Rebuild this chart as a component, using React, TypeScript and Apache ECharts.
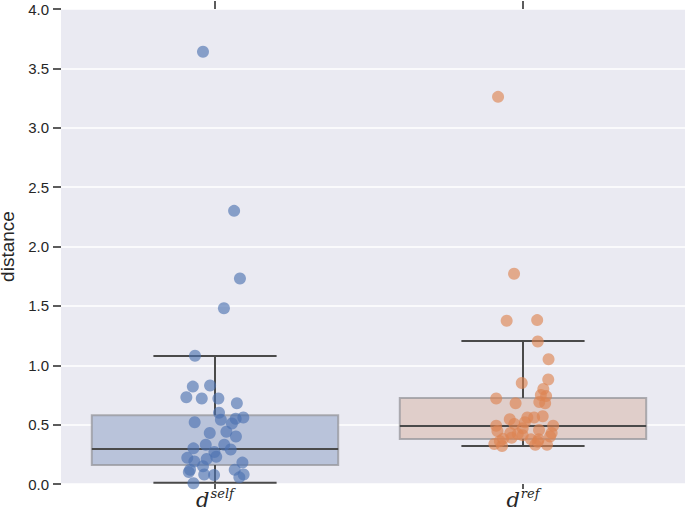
import React, { useEffect, useRef } from "react";
import * as echarts from "echarts";

const categories = ["self", "ref"];
const whiskerLow = [0.01, 0.32];
const quartile1 = [0.16, 0.38];
const medians = [0.295, 0.488];
const quartile3 = [0.58, 0.725];
const whiskerHigh = [1.078, 1.204];

const selfJitter = [-0.039, 0.062, 0.081, 0.029, -0.065, -0.072, -0.016, -0.093, -0.043, 0.011, 0.071, 0.013, 0.092, 0.067, 0.019, -0.066, 0.055, -0.017, 0.037, 0.068, -0.03, 0.03, 0.051, -0.07, -0.002, 0.004, -0.09, -0.027, -0.067, -0.039, 0.089, -0.085, -0.035, -0.003, 0.064, 0.093, 0.079, -0.07, -0.081];
const selfValues = [3.64, 2.3, 1.73, 1.48, 1.08, 0.82, 0.83, 0.73, 0.72, 0.72, 0.68, 0.6, 0.56, 0.55, 0.54, 0.52, 0.51, 0.43, 0.44, 0.4, 0.33, 0.33, 0.29, 0.3, 0.27, 0.23, 0.22, 0.21, 0.19, 0.15, 0.18, 0.1, 0.08, 0.076, 0.12, 0.08, 0.056, 0.006, 0.12];

const refJitter = [-0.081, -0.029, -0.053, 0.046, 0.048, 0.083, 0.082, -0.004, 0.066, 0.075, 0.058, -0.087, 0.053, 0.072, -0.024, 0.064, 0.036, 0.014, -0.043, 0.006, -0.028, -0.087, 0.098, -0.001, 0.052, -0.083, 0.093, -0.041, -0.017, -0.001, 0.088, 0.026, 0.051, -0.065, -0.093, -0.068, -0.075, 0.04, 0.078, 0.048, -0.037];
const refValues = [3.26, 1.77, 1.375, 1.38, 1.2, 1.05, 0.88, 0.85, 0.8, 0.74, 0.75, 0.72, 0.69, 0.68, 0.68, 0.57, 0.56, 0.56, 0.545, 0.52, 0.505, 0.49, 0.49, 0.47, 0.455, 0.446, 0.43, 0.43, 0.42, 0.41, 0.4, 0.376, 0.376, 0.38, 0.337, 0.32, 0.36, 0.33, 0.33, 0.356, 0.39];

const boxFills = ["#B9C3DA", "#E0CECA"];
const pointColors = ["rgba(76,114,176,0.8)", "rgba(221,132,82,0.8)"];

export default function App() {
  const ref = useRef<HTMLDivElement>(null);
  useEffect(() => {
    const chart = echarts.init(ref.current!, null, { renderer: "svg" });
    const boxData = categories.map((_, i) => [i, whiskerLow[i], quartile1[i], medians[i], quartile3[i], whiskerHigh[i]]);
    const selfPts = selfValues.map((v, i) => [0 + selfJitter[i], v]);
    const refPts = refValues.map((v, i) => [1 + refJitter[i], v]);
    const labelFont = "'Liberation Sans', Arial, sans-serif";
    const option: any = {
      animation: false,
      backgroundColor: "#ffffff",
      grid: { left: 61, right: 0, top: 9, bottom: 30, show: true, backgroundColor: "#EAEAF2", borderWidth: 0, outerBoundsMode: "none", containLabel: false },
      xAxis: [
        {
          type: "value",
          min: -0.5,
          max: 1.526,
          position: "bottom",
          splitLine: { show: false },
          axisLine: { show: false, onZero: false },
          axisTick: { show: true, customValues: [0, 1], length: 5, lineStyle: { color: "#262626", width: 1.5 } },
          axisLabel: {
            show: true,
            customValues: [0, 1],
            margin: 3,
            formatter: (v: number) => (Math.round(v) === 0 ? "{d|d}{s|self}" : "{d|d}{s|ref}"),
            rich: {
              d: { fontFamily: "'DejaVu Serif', serif", fontStyle: "italic", fontSize: 21, color: "#262626", verticalAlign: "bottom", lineHeight: 23 },
              s: { fontFamily: "'DejaVu Serif', serif", fontStyle: "italic", fontSize: 13, color: "#262626", verticalAlign: "top", lineHeight: 23, padding: [0, 0, 0, 1] },
            },
          },
        },
        {
          type: "value",
          min: -0.5,
          max: 1.526,
          position: "top",
          splitLine: { show: false },
          axisLine: { show: false, onZero: false },
          axisTick: { show: true, customValues: [0, 1], length: 8, lineStyle: { color: "#262626", width: 1.5 } },
          axisLabel: { show: false },
        },
      ],
      yAxis: {
        type: "value",
        min: 0,
        max: 4,
        interval: 0.5,
        name: "distance",
        nameLocation: "middle",
        nameGap: 34,
        nameRotate: 90,
        nameTextStyle: { fontFamily: labelFont, fontSize: 19, color: "#262626", lineHeight: 20 },
        axisLine: { show: false, onZero: false },
        axisTick: { show: true, length: 8, lineStyle: { color: "#262626", width: 1.5 } },
        axisLabel: { fontFamily: labelFont, fontSize: 15, color: "#262626", margin: 12, formatter: (v: number) => v.toFixed(1) },
        splitLine: { show: true, lineStyle: { color: "#ffffff", width: 1.5 } },
      },
      series: [
        {
          type: "custom",
          xAxisIndex: 0,
          data: boxData,
          z: 2,
          renderItem: (params: any, api: any) => {
            const i = api.value(0);
            const lo = api.value(1), q1 = api.value(2), med = api.value(3), q3 = api.value(4), hi = api.value(5);
            const a = api.coord([i - 0.4, q3]);
            const b = api.coord([i + 0.4, q1]);
            const cL = api.coord([i - 0.2, lo]);
            const cR = api.coord([i + 0.2, lo]);
            const hL = api.coord([i - 0.2, hi]);
            const hR = api.coord([i + 0.2, hi]);
            const mL = api.coord([i - 0.4, med]);
            const mR = api.coord([i + 0.4, med]);
            const c1 = api.coord([i, q1]);
            const c3 = api.coord([i, q3]);
            const line = { stroke: "#4a4a4a", lineWidth: 2 };
            return {
              type: "group",
              children: [
                { type: "rect", shape: { x: a[0], y: a[1], width: b[0] - a[0], height: b[1] - a[1] }, style: { fill: boxFills[i], stroke: "rgba(150,150,155,0.75)", lineWidth: 2 } },
                { type: "line", shape: { x1: mL[0], y1: mL[1], x2: mR[0], y2: mR[1] }, style: line },
                { type: "line", shape: { x1: c1[0], y1: c1[1], x2: c1[0], y2: cL[1] }, style: line },
                { type: "line", shape: { x1: c3[0], y1: c3[1], x2: c3[0], y2: hL[1] }, style: line },
                { type: "line", shape: { x1: cL[0], y1: cL[1], x2: cR[0], y2: cR[1] }, style: line },
                { type: "line", shape: { x1: hL[0], y1: hL[1], x2: hR[0], y2: hR[1] }, style: line },
              ],
            };
          },
        },
        {
          type: "scatter",
          xAxisIndex: 0,
          data: selfPts,
          symbolSize: 12,
          z: 3,
          itemStyle: { color: pointColors[0] },
        },
        {
          type: "scatter",
          xAxisIndex: 0,
          data: refPts,
          symbolSize: 12,
          z: 3,
          itemStyle: { color: pointColors[1] },
        },
      ],
    };
    chart.setOption(option);
    return () => chart.dispose();
  }, []);
  return <div ref={ref} style={{ width: 685, height: 514, position: "absolute", left: 0, top: 0 }} />;
}
